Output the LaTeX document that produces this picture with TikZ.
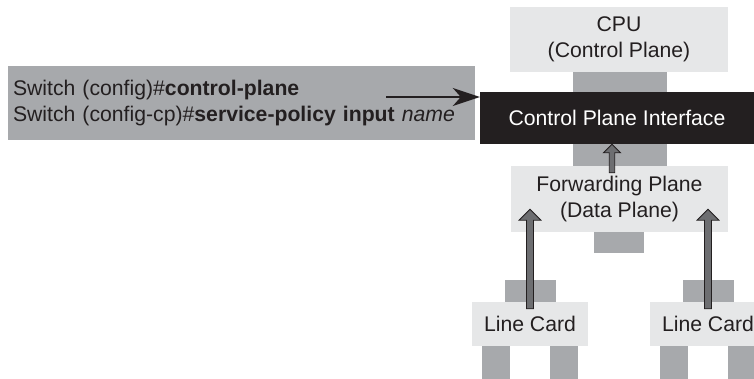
\documentclass[tikz,border=0pt]{standalone}
\usepackage{fontspec}
\setmainfont{Liberation Sans}
\usetikzlibrary{arrows.meta,positioning,calc}
\definecolor{boxgray}{HTML}{E6E7E8}
\definecolor{bargray}{HTML}{A7A9AC}
\definecolor{inkblack}{HTML}{231F20}
\definecolor{arrowgray}{HTML}{6D6E71}
\tikzset{
  plane/.style={fill=boxgray, inner sep=0pt, align=center, text=inkblack,
                font=\fontsize{21.2}{25.5}\selectfont},
  bar/.style={fill=bargray},
  fatarrow/.style={fill=arrowgray, draw=inkblack, line width=0.8pt, line join=miter},
  cmdarrow/.style={draw=inkblack, line width=2pt,
                   -{Stealth[length=27pt,width=18pt,inset=8pt]}}
}
% vertical block arrow, #2 = tail, #3 = tip, #1 = size factor
\newcommand\uparr[3][1]{%
  \draw[fatarrow] let \p1=(#2), \p2=(#3), \n1={#1} in
    (\x1-3.5pt*\n1,\y1) -- (\x1-3.5pt*\n1,\y2-11pt*\n1) -- (\x1-11pt*\n1,\y2-11pt*\n1)
    -- (\x1,\y2) -- (\x1+11pt*\n1,\y2-11pt*\n1) -- (\x1+3.5pt*\n1,\y2-11pt*\n1)
    -- (\x1+3.5pt*\n1,\y1) -- cycle;}

\begin{document}
\begin{tikzpicture}[x=1pt,y=-1pt]
  \clip (0,0) rectangle (754,379);

  % command box
  \node[fill=bargray, minimum height=74, text width=457, inner xsep=5pt, inner ysep=0pt,
        align=left, text=inkblack, font=\fontsize{21.2}{25.5}\selectfont]
        (cmd) at (241.5,103)
        {Switch (config)\#\textbf{control-plane}\\
         Switch (config-cp)\#\textbf{service-policy input} \textit{name}};

  % planes
  \node[plane, minimum width=218, minimum height=65] (cpu) at (619,39.5)
        {CPU\\(Control Plane)};
  \node[plane, minimum width=217, minimum height=66] (fwd) at (619.5,199)
        {Forwarding Plane\\(Data Plane)};
  \fill[bar] ($(cpu.south)+(-46,0)$) rectangle ($(fwd.north)+(47.5,0)$);
  \fill[bar] ($(fwd.south)+(-25.5,0)$) rectangle +(50,21);
  \node[plane, fill=inkblack, text=white, minimum width=274, minimum height=52]
        (cpi) at (617,118) {Control Plane Interface};

  % line cards
  \node[plane, minimum width=116, minimum height=44] (lc1) at (530,324) {Line Card};
  \node[plane, minimum width=116, minimum height=44] (lc2) at (708,324) {Line Card};
  \foreach \c in {lc1,lc2} {
    \fill[bar] ($(\c.north west)+(33,0)$) rectangle +(51,-22);
    \fill[bar] ($(\c.south west)+(10.5,0)$) rectangle +(28,33);
    \fill[bar] ($(\c.south west)+(78,0)$) rectangle +(28,33);
    \coordinate (\c in) at ($(\c.north)+(0,7)$);
    \coordinate (\c out) at ($(fwd.south -| \c.north)+(0,-23)$);
    \uparr{\c in}{\c out}
  }

  \coordinate (fwdin) at ($(fwd.north)+(-7.5,7)$);
  \coordinate (fwdout) at (fwdin |- cpi.south);
  \uparr[0.78]{fwdin}{fwdout}

  \coordinate (cmdtail) at (386,97);
  \draw[cmdarrow] (cmdtail) -- (cmdtail -| cpi.west);
\end{tikzpicture}
\end{document}
